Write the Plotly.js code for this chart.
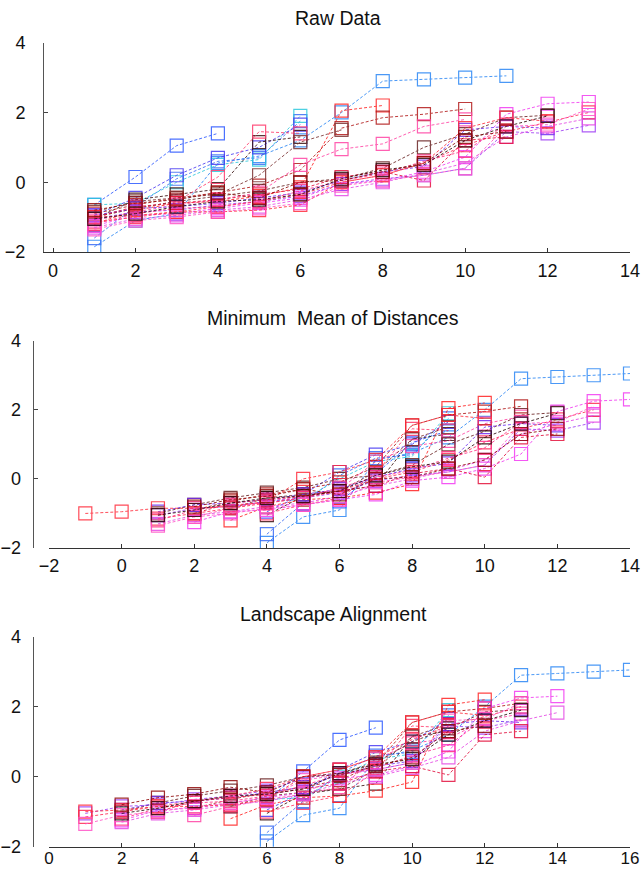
<!DOCTYPE html>
<html>
<head>
<meta charset="utf-8">
<script src="https://cdn.plot.ly/plotly-3.0.1.min.js"></script>
<style>html,body{margin:0;padding:0;background:#fff;}#chart{width:642px;height:871px;}</style>
</head>
<body>
<div id="chart"></div>
<script>
// Raw series values (x = 1, 2, 3, ...)
const yA = [-0.65, 0.15, 1.05, 1.4];
const yB = [-1.85, -1.1, -0.9, 0.55, 0.75, 1.2, 2.0, 2.9, 2.95, 3.0, 3.05];
const yW = [-1.6, -0.7, 0.1, 0.6, 0.7, 1.75];
const yC = [-0.65, -0.6, 0.0, 0.5, 0.65, 1.9];
const yD = [-0.95, -0.45, 0.2, 0.7, 1.0, 1.65];
const yE = [-1.05, -0.5, -0.35, -0.2, 1.15, 1.3];
const yV = [-1.0, -0.75, -0.55, 0.15, 1.45, 1.4];
const yF = [-1.2, -0.8, -0.6, -0.55, -0.4, -0.15, 2.05, 2.2];
const yG = [-0.9, -0.65, -0.45, -0.3, -0.1, 0.35, 1.55, 1.85, 1.95, 2.1];
const yH = [-1.1, -0.85, -0.65, -0.5, -0.3, 0.5, 0.95, 1.1, 1.6, 1.8];
const yI = [-0.85, -0.55, -0.45, -0.35, 0.2, 1.15, 1.5];
const yJ = [-1.0, -0.75, -0.55, -0.4, -0.25, 0.0, 0.1, 0.4, 1.0, 1.38, 1.85, 1.92];
const yK = [-1.25, -0.95, -0.9, -0.75, -0.6, -0.45, -0.05, 0.05, 0.3, 0.72, 1.95, 2.25, 2.3];
const yL = [-1.05, -0.85, -0.8, -0.65, -0.55, -0.4, -0.05, 0.1, 0.2, 0.4, 1.45, 1.4, 1.63];
const yM = [-0.95, -0.75, -0.7, -0.6, -0.45, -0.3, 0.05, 0.3, 0.45, 1.5, 1.6, 1.55];
const yN = [-1.15, -1.0, -0.85, -0.7, -0.55, -0.35, 0.0, 0.2, 0.55, 1.06, 1.45, 1.72, 2.0];
const yO = [-1.3, -1.05, -0.95, -0.8, -0.7, -0.5, -0.2, 0.0, 0.25, 0.55, 1.3, 1.6, 1.83];
const yP = [-1.2, -0.9, -0.75, -0.7, -0.55, -0.25, 0.05, 0.25, 0.6, 0.9, 1.65];
const yQ = [-1.0, -0.7, -0.6, -0.5, -0.35, -0.2, 0.15, 0.3, 0.05, 1.2, 1.3];
const yR = [-1.0, -0.95, -0.85, -0.85, -0.8, -0.65, 0.0, 0.2, 0.55, 1.55, 1.85, 1.75];
const yS = [-1.35, -1.1, -1.0, -0.85, -0.75, -0.6, -0.1, 0.05, 0.2, 0.4, 1.6, 1.65, 2.1];
const yT = [-1.05, -0.9, -0.7, -0.55, -0.5, -0.35, 0.1, 0.35, 0.5, 1.2, 1.6, 1.9];
const yU = [-0.8, -0.6, -0.5, -0.3, -0.45, 0.0, 0.05, 0.3, 0.55, 1.3, 1.45];

const seriesY = [yA, yB, yW, yC, yD, yE, yV, yF, yG, yH, yI, yJ, yK, yL, yM, yN, yO, yP, yQ, yR, yS, yT, yU];
const seriesColors = ['#2f5bff', '#2b87f5', '#3a6cf5', '#2ec9dd', '#4a3cf2', '#3b1212', '#ff3d6e', '#ff2424', '#b31b1b',
  '#ff45a5', '#7d3434', '#6b2525', '#f23cf2', '#a040f5', '#7030f0', '#ff2b55', '#e64be6',
  '#ff3388', '#e3123f', '#ff2d3c', '#ff55c8', '#2d0c0c', '#900a0a'];
// x offsets of each series after each alignment
const shiftMMD = [5, 3, 3, 3, 3, 3, 3, 2, 1, 1, 2, 0, 1, 0, 0, 0, 0, 0, 1, -2, 0, 0, 1];
const shiftLA  = [5, 5, 5, 5, 5, 5, 5, 4, 3, 3, 4, 1, 1, 0, 1, 0, 1, 1, 2, 0, 0, 1, 1];

const panelTitles = ['Raw Data', 'Minimum  Mean of Distances', 'Landscape Alignment'];
const panelShifts = [null, shiftMMD, shiftLA];

const W = 642, H = 871;
const px = v => v / W;
const py = v => (H - v) / H;

const traces = [];
for (let p = 0; p < 3; p++) {
  const ax = p === 0 ? '' : String(p + 1);
  seriesY.forEach((ys, k) => {
    const off = panelShifts[p] ? panelShifts[p][k] : 0;
    const xs = ys.map((_, i) => i + 1 + off);
    traces.push({
      x: xs, y: ys, type: 'scatter', mode: 'lines+markers',
      xaxis: 'x' + ax, yaxis: 'y' + ax,
      line: {color: seriesColors[k], width: 1, dash: '3px,2px'},
      marker: {symbol: 'square-open', size: 13, color: seriesColors[k], line: {width: 1.2, color: seriesColors[k]}},
      opacity: 0.85, showlegend: false, hoverinfo: 'skip'
    });
  });
}

const fontFam = 'Liberation Sans, Arial, sans-serif';
const tickFont = {family: fontFam, size: 18, color: '#111'};
const xBase = {dtick: 2, ticks: 'inside', ticklen: 4, tickcolor: '#333', showline: true, linecolor: '#333',
  linewidth: 1, showgrid: false, zeroline: false, tickfont: tickFont, ticklabelstandoff: 2, fixedrange: true};
const yBase = {range: [-2, 4], dtick: 2, ticks: 'inside', ticklen: 4, tickcolor: '#444', showline: true,
  linecolor: '#555', linewidth: 1, showgrid: false, zeroline: false, tickfont: tickFont, fixedrange: true};

const layout = {
  width: W, height: H, margin: {l: 0, r: 0, t: 0, b: 0},
  paper_bgcolor: '#fff', plot_bgcolor: '#fff', showlegend: false, hovermode: false,
  xaxis: Object.assign({}, xBase, {domain: [px(44), px(630)], range: [-0.22, 14], anchor: 'y'}),
  yaxis: Object.assign({}, yBase, {domain: [py(252), py(42.7)], anchor: 'x', ticklabelstandoff: 14}),
  xaxis2: Object.assign({}, xBase, {domain: [px(49), px(630)], range: [-2, 14], anchor: 'y2', ticklabelstandoff: 1}),
  yaxis2: Object.assign({}, yBase, {domain: [py(548), py(340.7)], anchor: 'free', position: px(32.7), ticklabelstandoff: 8}),
  xaxis3: Object.assign({}, xBase, {domain: [px(49), px(630)], range: [0, 16], anchor: 'y3', ticklabelstandoff: -4,
    tickfont: {family: fontFam, size: 17, color: '#111'}}),
  yaxis3: Object.assign({}, yBase, {domain: [py(846.7), py(636.7)], anchor: 'free', position: px(32.7), ticklabelstandoff: 8}),
  annotations: [
    {text: panelTitles[0], x: px(338), y: py(18)},
    {text: panelTitles[1], x: px(333), y: py(318)},
    {text: panelTitles[2], x: px(333), y: py(614)}
  ].map(a => Object.assign(a, {xref: 'paper', yref: 'paper', showarrow: false, xanchor: 'center', yanchor: 'middle',
    font: {family: fontFam, size: 19.5, color: '#111'}}))
};

Plotly.newPlot('chart', traces, layout, {displayModeBar: false, staticPlot: true});
</script>
</body>
</html>
